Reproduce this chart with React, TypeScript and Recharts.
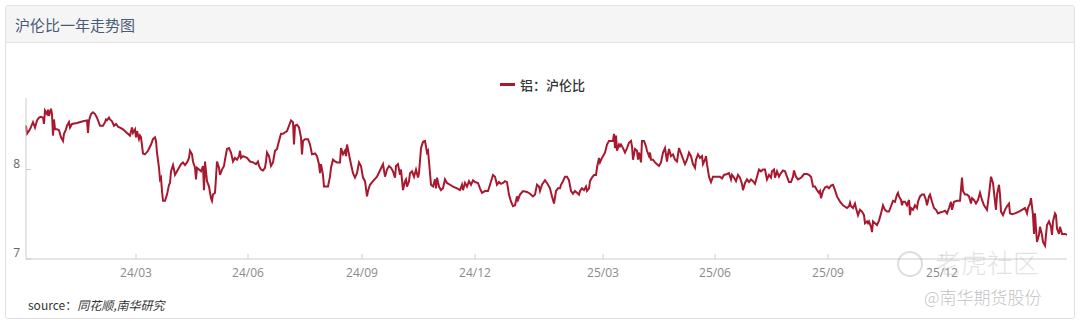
import React from 'react';
import { LineChart, Line, XAxis, YAxis } from 'recharts';

// Trading-day index (0 = first day shown) and 沪伦比 values
const DAYS_1 = [0,1,4,7,9,11,13,15,17,18,19,21,22,23,25,26,27,28,29,31,33,35,37,38,40,41,43,44,46,51,57,61,62,63,65,67,69,71,74,77,79,80,81,83,84,86,88,90,92,94,97,101,104,106,107,109,110,111,113,114,115,117,119,122,125,127,129,130,131,133,134,135,136,137,139,141,143,144,145,147,148,149,151,153,155,157,159,161,163,164,166,167,169,170,171,173,175,177,178,179,181,183,185,186,187,189,190,191,193,194,196,198,199,201,203,205,207,209,211,213,214,215,217,221,224,227,230,232,233,235,237,239,240,241,243,245,247,249,251,253,255,257];
const RATIO_1 = [8.49,8.40,8.45,8.53,8.47,8.55,8.58,8.59,8.58,8.51,8.66,8.62,8.67,8.60,8.68,8.62,8.38,8.56,8.45,8.45,8.44,8.36,8.32,8.40,8.45,8.49,8.53,8.47,8.51,8.52,8.54,8.55,8.41,8.55,8.62,8.64,8.62,8.58,8.49,8.49,8.53,8.56,8.55,8.58,8.56,8.54,8.49,8.51,8.48,8.47,8.45,8.41,8.38,8.47,8.41,8.45,8.36,8.43,8.34,8.38,8.36,8.18,8.17,8.21,8.28,8.34,8.36,8.32,8.19,8.02,7.89,7.91,7.76,7.65,7.65,7.72,7.83,7.85,7.98,8.05,8.00,7.94,7.98,8.02,8.06,8.08,8.05,8.08,8.13,8.21,8.17,8.09,8.02,7.89,8.02,8.00,7.98,8.04,7.77,8.09,7.87,7.81,7.68,7.65,7.72,7.74,7.91,8.09,8.02,7.94,8.00,8.04,8.11,8.23,8.24,8.19,8.09,8.13,8.11,8.15,8.21,8.13,8.15,8.13,8.09,8.08,8.06,8.09,8.04,8.00,7.99,8.02,8.09,8.19,8.15,8.04,8.08,8.21,8.23,8.32,8.40,8.40];

const DAYS_2 = [261,263,265,267,268,269,271,273,275,276,277,279,282,284,286,289,291,293,294,295,297,298,302,304,305,307,309,311,314,315,317,319,320,321,323,325,327,329,331,333,335,337,339,341,342,344,347,351,354,357,359,361,363,365,367,369,370,372,374,375,377,379,380,381,383,384,386,388,390,392,393,395,397,399,401,402,403,405,407,409,410,411,413,415,417,419,421,424,427,431,434,436,437,439,441,443,445,447,449,452,454,456,459,462,464,467,469,471,473,475,477,479,481,483,485,487,489,491,492,494,497,501,504,507,509,511,513];
const RATIO_2 = [8.43,8.49,8.55,8.53,8.28,8.49,8.50,8.47,8.36,8.17,8.32,8.34,8.34,8.28,8.17,8.18,8.15,8.06,7.96,8.06,7.94,7.81,7.81,7.92,8.02,8.11,8.09,8.08,8.08,8.24,8.17,8.21,8.15,8.28,8.17,8.06,7.96,7.91,7.96,8.08,8.04,7.91,7.87,7.70,7.76,7.83,7.87,7.92,7.99,8.06,7.92,8.00,8.04,8.02,7.98,7.91,8.04,8.06,7.94,8.00,7.77,7.87,7.89,7.81,7.87,7.96,7.98,7.92,8.00,7.91,7.96,8.24,8.31,8.32,8.19,8.21,8.09,7.83,7.81,7.89,7.79,7.91,7.81,7.77,7.79,7.89,7.85,7.83,7.81,7.79,7.77,7.83,7.77,7.85,7.81,7.87,7.83,7.88,7.86,7.85,7.79,7.74,7.76,7.76,7.83,7.94,7.92,7.83,7.86,7.84,7.85,7.87,7.86,7.72,7.64,7.59,7.60,7.70,7.66,7.72,7.76,7.75,7.73,7.70,7.72,7.83,7.81];

const DAYS_3 = [514,516,519,521,524,526,528,530,532,534,535,537,539,541,543,545,547,549,551,553,554,556,558,560,561,563,564,566,568,570,571,573,574,576,577,579,581,583,585,587,588,589,590,591,593,594,595,597,599,601,603,605,606,607,609,611,612,613,615,616,618,620,621,623,624,625,627,629,631,633,635,637,639,641,642,643,645,647,649,651,653,654,656,658,659,661,663,665,667,669,670,672,674,676,677,679,680,681,683,685,687,691,694,696,698,701,703,705,706,708,710,712,714,716,717,719,721,723,725,727,729,731,733,735,737,739,741,743,745,746,748,749,751,753,755,757,759,761,763,765,767,768,770,772,774];
const RATIO_3 = [7.76,7.83,7.88,7.85,7.79,7.70,7.62,7.76,7.79,7.79,7.83,7.87,7.92,7.92,7.88,7.76,7.73,7.76,7.74,7.72,7.76,7.79,7.77,7.81,7.76,7.79,7.87,7.91,7.94,7.94,8.02,8.13,8.08,8.13,8.15,8.19,8.28,8.32,8.32,8.32,8.40,8.24,8.38,8.21,8.28,8.26,8.28,8.24,8.19,8.24,8.30,8.32,8.26,8.11,8.23,8.21,8.11,8.19,8.08,8.32,8.32,8.26,8.21,8.15,8.19,8.11,8.11,8.08,8.06,8.04,8.08,8.19,8.24,8.09,8.17,8.23,8.15,8.17,8.11,8.09,8.24,8.21,8.15,8.09,8.06,8.11,8.19,8.15,8.06,8.02,8.11,8.17,8.13,8.15,8.06,8.11,8.15,8.06,7.92,7.86,7.92,7.92,7.92,7.90,7.94,7.95,7.96,7.89,7.94,7.91,7.87,7.94,7.91,7.84,7.77,7.85,7.89,7.86,7.89,7.87,7.84,7.92,8.00,7.98,8.00,8.00,7.89,7.94,7.91,7.98,8.00,7.91,7.98,7.92,7.96,7.99,7.98,7.92,7.86,7.86,7.92,7.99,7.92,7.89,7.90];

const DAYS_4 = [776,778,781,783,785,786,787,789,791,793,794,795,797,799,801,803,805,807,809,811,814,817,821,823,824,825,827,829,830,832,834,836,838,839,841,842,843,845,846,847,849,851,853,855,857,859,861,863,865,867,869,871,872,873,875,876,877,879,881,883,884,885,887,889,891,892,894,896,898,900,901,903,904,906,908,910,912,914,917,919,921,923,925,926,928,931,934,936,937,939,941,943,945,946,948,950,952,954,956,958,961,963,965,967,969,970,971,973,974,975,977,979,981,983,984,986,989,993,996,999,1001,1002,1004,1005,1007,1008,1009,1010,1011,1013,1014,1016,1017,1019,1020,1021,1023,1025,1026,1027,1029,1030,1031,1033,1034,1036,1039,1041];
const RATIO_4 = [7.92,7.95,7.95,7.94,7.92,7.87,7.81,7.81,7.77,7.74,7.76,7.68,7.76,7.80,7.81,7.79,7.82,7.83,7.77,7.70,7.64,7.60,7.57,7.59,7.63,7.59,7.57,7.62,7.57,7.49,7.55,7.53,7.49,7.40,7.42,7.40,7.42,7.36,7.30,7.42,7.40,7.38,7.43,7.51,7.60,7.55,7.53,7.53,7.59,7.65,7.64,7.72,7.74,7.70,7.66,7.60,7.64,7.64,7.60,7.66,7.49,7.57,7.55,7.60,7.57,7.64,7.70,7.72,7.72,7.66,7.60,7.70,7.72,7.64,7.57,7.55,7.51,7.52,7.53,7.54,7.51,7.57,7.64,7.55,7.64,7.65,7.65,7.91,7.76,7.72,7.72,7.70,7.62,7.68,7.66,7.62,7.66,7.74,7.66,7.60,7.55,7.72,7.92,7.85,7.64,7.55,7.72,7.83,7.72,7.53,7.49,7.55,7.59,7.62,7.51,7.50,7.51,7.53,7.55,7.57,7.51,7.57,7.62,7.68,7.49,7.28,7.51,7.34,7.19,7.27,7.36,7.27,7.19,7.15,7.27,7.38,7.42,7.36,7.27,7.42,7.51,7.49,7.34,7.28,7.36,7.28,7.28,7.27];

const TICK_DAYS = [110, 222, 336, 449, 577, 689, 802, 916];
const TICK_LABELS = ['24/03', '24/06', '24/09', '24/12', '25/03', '25/06', '25/09', '25/12'];
const Y_TICKS = [7, 8];
const SERIES_NAME = '铝：沪伦比';
const TITLE = '沪伦比一年走势图';

const DAYS = [...DAYS_1, ...DAYS_2, ...DAYS_3, ...DAYS_4];
const RATIOS = [...RATIO_1, ...RATIO_2, ...RATIO_3, ...RATIO_4];
const data = DAYS.map((d, i) => ({ d, v: RATIOS[i] }));

const LINE_COLOR = '#a8182f';
const CJK = '"Noto Sans CJK SC", "Noto Sans", sans-serif';

const XTick = (props: any) => {
  const { x, y, payload } = props;
  const idx = TICK_DAYS.indexOf(payload.value);
  return (
    <text x={x} y={y} dy="0.35em" textAnchor="middle" fill="#8a8a8a" fontSize={12} fontFamily='"Open Sans", sans-serif'>
      {idx >= 0 ? TICK_LABELS[idx] : ''}
    </text>
  );
};

const YTick = (props: any) => {
  const { x, y, payload } = props;
  return (
    <text x={x} y={y - 6} dy="0.35em" textAnchor="end" fill="#666" fontSize={12} fontFamily='"Open Sans", sans-serif'>
      {payload.value}
    </text>
  );
};

export default function App() {
  return (
    <div style={{ position: 'fixed', left: 0, top: 0, width: 1080, height: 322, background: '#fff', fontFamily: CJK, overflow: 'hidden' }}>
      <div style={{ position: 'absolute', left: 5, top: 5, width: 1068, height: 312, border: '1px solid #e2e2e2', borderRadius: 3, background: '#fff' }} />
      <div style={{ position: 'absolute', left: 6, top: 6, width: 1068, height: 36, background: '#f5f5f5', borderBottom: '1px solid #e2e2e2', borderTopLeftRadius: 3, borderTopRightRadius: 3 }} />
      <div style={{ position: 'absolute', left: 15, top: 14, fontSize: 15, lineHeight: '22px', color: '#4a5b78' }}>{TITLE}</div>

      <div style={{ position: 'absolute', left: 0, top: 0 }}>
        <LineChart width={1080} height={322} data={data} margin={{ top: 98, right: 13, bottom: 0, left: 0 }}>
          <XAxis
            dataKey="d"
            type="number"
            domain={[0, 1041]}
            ticks={TICK_DAYS}
            interval={0}
            height={63}
            tickSize={-5}
            tickMargin={19}
            axisLine={{ stroke: '#cccccc' }}
            tickLine={{ stroke: '#cccccc' }}
            tick={<XTick />}
          />
          <YAxis
            type="number"
            domain={[7, 8.8]}
            ticks={Y_TICKS}
            interval={0}
            width={26}
            tickSize={-5}
            tickMargin={11}
            allowDataOverflow
            axisLine={{ stroke: '#cccccc' }}
            tickLine={{ stroke: '#cccccc' }}
            tick={<YTick />}
          />
          <Line
            type="linear"
            dataKey="v"
            name={SERIES_NAME}
            stroke={LINE_COLOR}
            strokeWidth={2}
            dot={false}
            isAnimationActive={false}
          />
        </LineChart>
      </div>

      <div style={{ position: 'absolute', left: 500, top: 76, display: 'flex', alignItems: 'center', height: 16 }}>
        <div style={{ width: 15, height: 3, background: LINE_COLOR, marginRight: 5 }} />
        <span style={{ fontSize: 13, color: '#333', fontWeight: 500 }}>{SERIES_NAME}</span>
      </div>

      <div style={{ position: 'absolute', left: 28, top: 296, fontSize: 12, color: '#333' }}>
        source：<span style={{ fontStyle: 'italic' }}>同花顺,南华研究</span>
      </div>

      <div style={{ position: 'absolute', left: 897, top: 251, width: 22, height: 22, borderRadius: '50%', border: '2px solid rgba(160,160,160,0.35)' }} />
      <div style={{ position: 'absolute', left: 935, top: 246, fontSize: 26, lineHeight: '32px', color: 'rgba(170,170,170,0.35)', fontWeight: 300 }}>老虎社区</div>
      <div style={{ position: 'absolute', left: 924, top: 285, fontSize: 17, lineHeight: '24px', color: 'rgba(150,150,150,0.6)', fontWeight: 300 }}>@南华期货股份</div>
    </div>
  );
}
